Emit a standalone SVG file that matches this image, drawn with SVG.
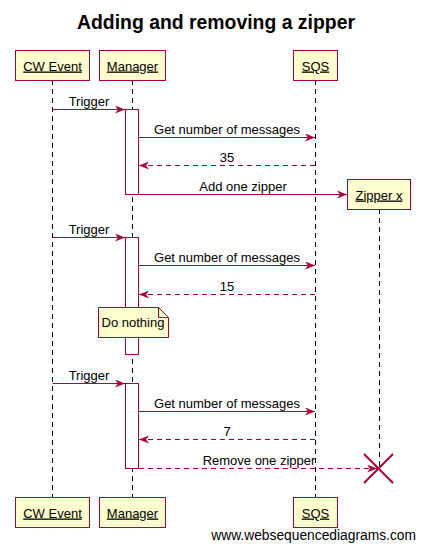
<svg xmlns="http://www.w3.org/2000/svg" width="426" height="550" viewBox="0 0 426 550">
<style>
.box{fill:#FEFECE;stroke:#A80036;stroke-width:1}
.act{fill:#FFFFFF;stroke:#A80036;stroke-width:1}
.life{stroke:#000;stroke-width:1;stroke-dasharray:5,4;fill:none}
.msg{stroke:#A80036;stroke-width:1;fill:none;marker-end:url(#ah)}
.ret{stroke:#A80036;stroke-width:1;fill:none;stroke-dasharray:5,4;marker-end:url(#ah)}
text{font-family:"Liberation Sans",Arial,sans-serif;font-size:13px;fill:#000}
.pn{text-anchor:middle;text-decoration:underline}
.lbl{text-anchor:middle}
.title{font-size:19.4px;font-weight:bold;text-anchor:middle}
</style>
<defs>
<marker id="ah" viewBox="0 0 10 8" refX="10" refY="4" markerWidth="10" markerHeight="8" markerUnits="userSpaceOnUse" orient="auto">
<path d="M0,0 L10,4 L0,8 L3,4 z" fill="#A80036" stroke="none"/>
</marker>
</defs>
<rect width="426" height="550" fill="#FFFFFF"/>
<text class="title" x="216" y="29">Adding and removing a zipper</text>

<g id="lifelines">
<line class="life" x1="52.5" y1="80" x2="52.5" y2="497"/>
<line class="life" x1="132.5" y1="80" x2="132.5" y2="497"/>
<line class="life" x1="315.5" y1="80" x2="315.5" y2="497"/>
<line class="life" x1="379.5" y1="209" x2="379.5" y2="468"/>
</g>

<g id="activations">
<rect class="act" x="125.5" y="109.5" width="13" height="85"/>
<rect class="act" x="125.5" y="237.5" width="13" height="117"/>
<rect class="act" x="125.5" y="383.5" width="13" height="85"/>
</g>

<g id="cwevent">
<rect class="box" x="15.5" y="50.5" width="74" height="30"/>
<text class="pn" x="52.5" y="70.5">CW Event</text>
<rect class="box" x="15.5" y="497.5" width="74" height="30"/>
<text class="pn" x="52.5" y="517.5">CW Event</text>
</g>
<g id="manager">
<rect class="box" x="99.5" y="50.5" width="66" height="30"/>
<text class="pn" x="132.5" y="70.5">Manager</text>
<rect class="box" x="99.5" y="497.5" width="66" height="30"/>
<text class="pn" x="132.5" y="517.5">Manager</text>
</g>
<g id="sqs">
<rect class="box" x="293.5" y="50.5" width="44" height="30"/>
<text class="pn" x="315.5" y="70.5">SQS</text>
<rect class="box" x="293.5" y="497.5" width="44" height="30"/>
<text class="pn" x="315.5" y="517.5">SQS</text>
</g>
<g id="zipper">
<rect class="box" x="347.5" y="179.5" width="63" height="30"/>
<text class="pn" x="379" y="199.5">Zipper x</text>
<g stroke="#A80036" stroke-width="2">
<line x1="364" y1="454" x2="393" y2="483"/>
<line x1="393" y1="454" x2="364" y2="483"/>
</g>
</g>
<g id="note">
<path class="box" d="M98.5,307.5 H158.5 L168.5,317.5 V337.5 H98.5 Z"/>
<path d="M158.5,307.5 V317.5 H168.5" fill="none" stroke="#A80036" stroke-width="1"/>
<text class="lbl" x="133" y="327">Do nothing</text>
</g>

<g id="connectors">
<line class="msg" x1="52.5" y1="109.5" x2="125" y2="109.5"/>
<text class="lbl" x="89" y="106">Trigger</text>
<line class="msg" x1="139" y1="137.5" x2="315" y2="137.5"/>
<text class="lbl" x="227" y="134">Get number of messages</text>
<line class="ret" x1="315" y1="165.5" x2="139" y2="165.5"/>
<text class="lbl" x="227" y="162">35</text>
<line class="msg" x1="139" y1="194.5" x2="347" y2="194.5"/>
<text class="lbl" x="243" y="190.5">Add one zipper</text>

<line class="msg" x1="52.5" y1="237.5" x2="125" y2="237.5"/>
<text class="lbl" x="89" y="234">Trigger</text>
<line class="msg" x1="139" y1="265.5" x2="315" y2="265.5"/>
<text class="lbl" x="227" y="262">Get number of messages</text>
<line class="ret" x1="315" y1="294.5" x2="139" y2="294.5"/>
<text class="lbl" x="227" y="291">15</text>

<line class="msg" x1="52.5" y1="383.5" x2="125" y2="383.5"/>
<text class="lbl" x="89" y="380">Trigger</text>
<line class="msg" x1="139" y1="411.5" x2="315" y2="411.5"/>
<text class="lbl" x="227" y="408">Get number of messages</text>
<line class="ret" x1="315" y1="439.5" x2="139" y2="439.5"/>
<text class="lbl" x="227" y="436">7</text>
<line class="ret" x1="139" y1="468.5" x2="377" y2="468.5"/>
<text class="lbl" x="259" y="465">Remove one zipper</text>
</g>

<text x="416" y="539.5" style="font-size:13.8px;text-anchor:end">www.websequencediagrams.com</text>
</svg>
